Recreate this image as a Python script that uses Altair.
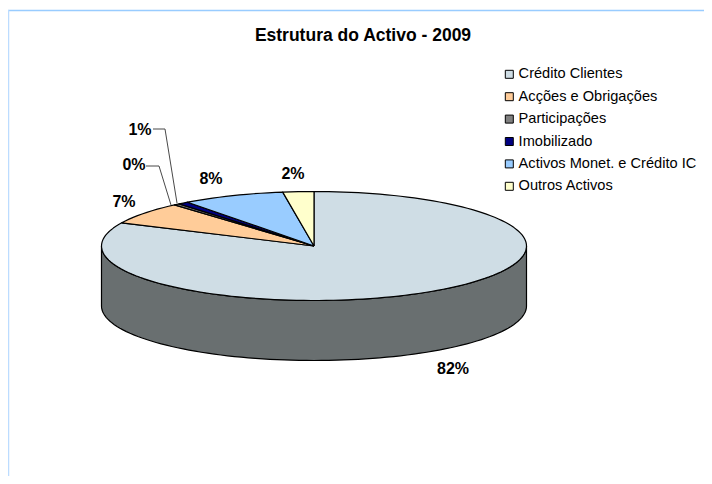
import math
import altair as alt
import pandas as pd

categories = ["Crédito Clientes", "Acções e Obrigações", "Participações", "Imobilizado",
              "Activos Monet. e Crédito IC", "Outros Activos"]
shares = [82.0, 6.6, 0.45, 0.8, 7.8, 2.35]
colours = ["#cfdde5", "#ffcc99", "#808080", "#000080", "#99ccff", "#ffffcc"]
rim_colour = "#696f70"

W, H = 696, 468
CX, CY, RX, RY, DEPTH = 306, 238, 212.5, 54.5, 60
xdom = [-CX / RX, (W - CX) / RX]
ydom = [-(H - CY) / RY, CY / RY]
xs = alt.Scale(domain=xdom, range=[0, W], nice=False, zero=False)
ys = alt.Scale(domain=ydom, range=[H, 0], nice=False, zero=False)

def ux(px):
    return (px - 8 - CX) / RX

def uy(py):
    return (CY - (py - 8)) / RY

# top-face slices, clockwise from 12 o'clock
rows = []
start = 0.0
for cat, s in zip(categories, shares):
    end = start + s * 3.6
    n = max(2, int((end - start) / 2))
    pts = [(0.0, 0.0)]
    for k in range(n + 1):
        a = math.radians(start + (end - start) * k / n)
        pts.append((math.sin(a), math.cos(a)))
    pts.append((0.0, 0.0))
    for i, (x, y) in enumerate(pts):
        rows.append({"cat": cat, "x": x, "y": y, "i": i})
    start = end
top = pd.DataFrame(rows)

rim = []
for d in range(90, 271, 2):
    a = math.radians(d)
    rim.append({"x": math.sin(a), "y": math.cos(a), "i": len(rim)})
for d in range(270, 89, -2):
    a = math.radians(d)
    rim.append({"x": math.sin(a), "y": math.cos(a) - DEPTH / RY, "i": len(rim)})
rim.append(dict(rim[0], i=len(rim)))
rim = pd.DataFrame(rim)

X = alt.X("x:Q", scale=xs, axis=None)
Y = alt.Y("y:Q", scale=ys, axis=None)
O = alt.Order("i:Q")

rim_layer = alt.Chart(rim).mark_line(fill=rim_colour, stroke="black", strokeWidth=1.2).encode(X, Y, O)
top_layer = alt.Chart(top).mark_line(stroke="black", strokeWidth=1.2, strokeJoin="round").encode(
    X, Y, O,
    fill=alt.Fill("cat:N", sort=None, scale=alt.Scale(domain=categories, range=colours),
                  legend=alt.Legend(title=None, orient="none", legendX=494, legendY=59,
                                    symbolType="square", symbolSize=64, symbolStrokeColor="black",
                                    symbolStrokeWidth=1, labelFont="Liberation Sans", labelFontSize=14.6,
                                    labelColor="black", rowPadding=7.4, labelOffset=2,
                                    labelLimit=300)),
)

leaders = pd.DataFrame([
    {"g": "0", "i": 0, "x": ux(146), "y": uy(166)},
    {"g": "0", "i": 1, "x": ux(159), "y": uy(166)},
    {"g": "0", "i": 2, "x": ux(171), "y": uy(205)},
    {"g": "1", "i": 0, "x": ux(153), "y": uy(129)},
    {"g": "1", "i": 1, "x": ux(165), "y": uy(129)},
    {"g": "1", "i": 2, "x": ux(177), "y": uy(203)},
])
leader_layer = alt.Chart(leaders).mark_line(color="#333333", strokeWidth=0.9).encode(X, Y, O, detail="g:N")

label_pos = [(124, 202), (134, 165), (140, 130), (211, 179), (293, 174), (453, 369)]
label_text = ["7%", "0%", "1%", "8%", "2%", "82%"]
label_df = pd.DataFrame({"t": label_text,
                         "x": [ux(p[0]) for p in label_pos],
                         "y": [uy(p[1]) for p in label_pos]})
label_layer = alt.Chart(label_df).mark_text(font="Liberation Sans", fontWeight="bold", fontSize=16,
                                            color="black").encode(X, Y, text="t:N")

title_df = pd.DataFrame({"t": ["Estrutura do Activo - 2009"], "x": [ux(363)], "y": [uy(35.5)]})
title_layer = alt.Chart(title_df).mark_text(font="Liberation Sans", fontWeight="bold", fontSize=17.5,
                                            color="black").encode(X, Y, text="t:N")

border_top = alt.Chart(pd.DataFrame({"a": [0]})).mark_rule(color="#99ccff", strokeWidth=1.5).encode(
    x=alt.value(0), x2=alt.value(W), y=alt.value(2.5))
border_left = alt.Chart(pd.DataFrame({"a": [0]})).mark_rule(color="#bcdcff", strokeWidth=1.5).encode(
    x=alt.value(0.5), y=alt.value(2), y2=alt.value(H))

chart = alt.layer(border_top, border_left, rim_layer, top_layer, leader_layer, label_layer, title_layer).properties(
    width=W, height=H, padding=0, autosize=alt.AutoSizeParams(type="none")
).configure_view(stroke=None)

chart.save("out.html", embed_options={"renderer": "svg", "actions": False})
